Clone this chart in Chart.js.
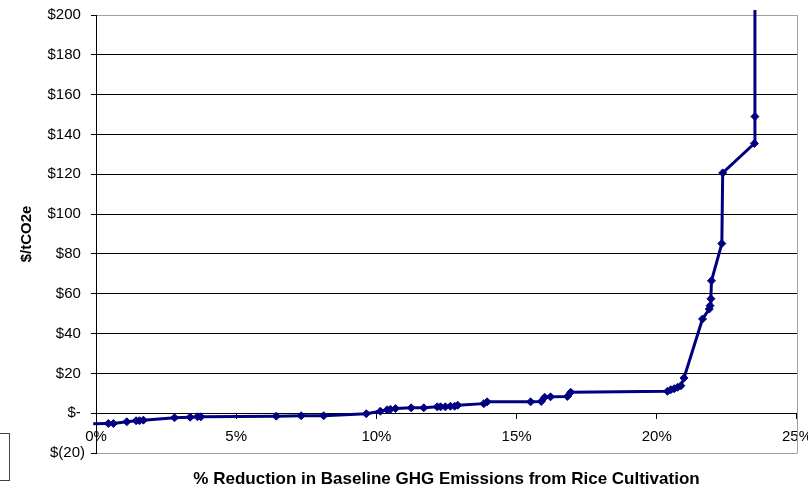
<!DOCTYPE html>
<html>
<head>
<meta charset="utf-8">
<title>Marginal abatement cost curve – rice cultivation</title>
<script src="https://cdn.jsdelivr.net/npm/chart.js@4/dist/chart.umd.min.js"></script>
<style>
  html, body { margin: 0; padding: 0; background: #fff; overflow: hidden; }
  #wrap { position: relative; width: 808px; height: 489px; overflow: hidden; }
  #legendStub { position: absolute; left: -40px; top: 433px; width: 48px; height: 46px; border: 1px solid #444; background: #fff; }
  canvas { position: absolute; left: 0; top: 0; }
</style>
</head>
<body>
<div id="wrap">
  <!-- canvas runs a little past the frame so the last x label is cut at the edge -->
  <canvas id="mac" width="822" height="489"></canvas>
  <div id="legendStub"></div>
</div>
<script>
// Cumulative reduction in baseline GHG emissions (% of baseline)
const pctReduction = [
  -0.1, 0.44, 0.62, 1.10, 1.43, 1.55, 1.69, 2.80, 3.36, 3.62, 3.74,
  6.43, 7.32, 8.12, 9.64, 10.14, 10.38, 10.50, 10.68, 11.24, 11.69,
  12.17, 12.29, 12.46, 12.64, 12.79, 12.90, 13.83, 13.95, 15.50, 15.88,
  16.00, 16.21, 16.81, 16.93, 20.38, 20.50, 20.62, 20.74, 20.86, 20.97,
  21.63, 21.87, 21.90, 21.93, 21.95, 22.32, 22.35, 23.48, 23.50, 23.50
];

// Marginal abatement cost of each option ($/tCO2e)
const costPerTonne = [
  -5.3, -5.2, -5.2, -4.3, -3.8, -3.8, -3.5, -2.3, -2.0, -1.8, -1.8,
  -1.5, -1.3, -1.3, -0.3, 1.0, 1.7, 2.0, 2.3, 2.7, 2.7,
  3.2, 3.2, 3.2, 3.5, 3.5, 4.0, 4.8, 5.7, 5.7, 5.9,
  8.0, 8.2, 8.4, 10.5, 11.0, 11.8, 12.3, 13.0, 13.8, 17.7,
  47.3, 52.3, 54.0, 57.5, 66.5, 85.2, 120.7, 135.5, 149.0, 400.0
];

// Axis ranges and tick spacing
const xTickRange = [0, 25, 5];      // min, max, step (%)
const yTickRange = [-20, 200, 20];  // min, max, step ($)

const FONT = '"Liberation Sans", Arial, sans-serif';

const points = pctReduction.map((x, i) => ({ x: x, y: costPerTonne[i] }));

function dollarLabel(v) {
  if (v === 0) return '$- ';
  if (v < 0) return '$(' + (-v) + ')';
  return '$' + v + ' ';
}

// Grey frame on the right side of the plot area
const plotFrame = {
  id: 'plotFrame',
  beforeDatasetsDraw(chart) {
    const a = chart.chartArea;
    const ctx = chart.ctx;
    ctx.save();
    ctx.strokeStyle = '#a0a0a0';
    ctx.lineWidth = 1;
    ctx.beginPath();
    ctx.moveTo(Math.round(a.right) + 0.5, a.top);
    ctx.lineTo(Math.round(a.right) + 0.5, a.bottom + 0.5);
    ctx.stroke();
    ctx.restore();
  }
};

new Chart(document.getElementById('mac'), {
  type: 'scatter',
  data: {
    datasets: [{
      data: points,
      showLine: true,
      borderColor: '#000080',
      backgroundColor: '#000080',
      borderWidth: 3,
      pointStyle: 'rectRot',
      pointRadius: pctReduction.map((_, i) => (i === 0 ? 0 : 4)),
      pointBorderWidth: 1,
      pointBorderColor: '#000080',
      pointBackgroundColor: '#000080',
      tension: 0,
      clip: { left: 4, top: 5, right: 0, bottom: 0 }
    }]
  },
  options: {
    responsive: false,
    animation: false,
    events: [],
    layout: { padding: { top: 14, right: 0, left: 0, bottom: 0 } },
    plugins: {
      legend: { display: false },
      tooltip: { enabled: false },
      title: {
        display: true,
        position: 'bottom',
        fullSize: false,
        text: '% Reduction in Baseline GHG Emissions from Rice Cultivation',
        color: '#000',
        font: { family: FONT, size: 17, weight: 'bold', lineHeight: 1 },
        padding: { top: 18, bottom: 1 }
      }
    },
    scales: {
      x: {
        type: 'linear',
        position: { y: 0 },
        min: xTickRange[0],
        max: xTickRange[1],
        ticks: {
          stepSize: xTickRange[2],
          color: '#000',
          font: { family: FONT, size: 15 },
          padding: 10,
          maxRotation: 0,
          callback: v => v + '%'
        },
        grid: {
          drawOnChartArea: false,
          drawTicks: true,
          tickLength: 5,
          tickColor: '#000'
        },
        border: { display: true, color: '#000', width: 1 }
      },
      y: {
        type: 'linear',
        position: 'left',
        min: yTickRange[0],
        max: yTickRange[1],
        afterFit(scale) { scale.width = 96; },
        ticks: {
          stepSize: yTickRange[2],
          color: '#000',
          font: { family: FONT, size: 15 },
          padding: 6,
          callback: v => dollarLabel(v)
        },
        grid: {
          color: ctx => (ctx.tick && (ctx.tick.value === yTickRange[1] || ctx.tick.value === yTickRange[0])) ? '#a0a0a0' : '#000',
          lineWidth: 1,
          drawTicks: true,
          tickLength: 5,
          tickColor: '#000'
        },
        border: { display: true, color: '#000', width: 1 },
        title: {
          display: true,
          text: '$/tCO2e',
          color: '#000',
          font: { family: FONT, size: 15, weight: 'bold', lineHeight: 1.2 },
          padding: { top: 18, bottom: 0 }
        }
      }
    }
  },
  plugins: [plotFrame]
});
</script>
</body>
</html>
